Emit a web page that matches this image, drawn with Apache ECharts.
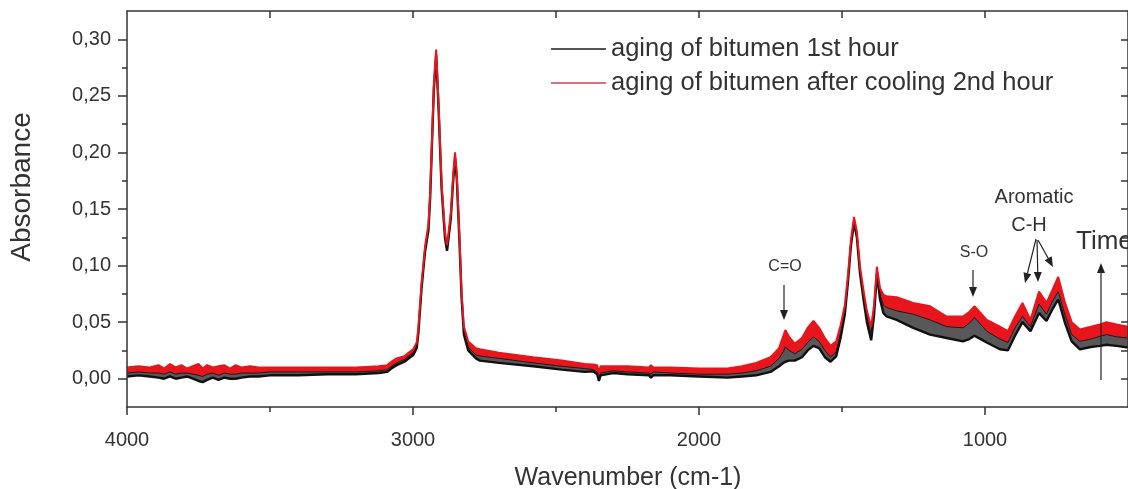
<!DOCTYPE html>
<html>
<head>
<meta charset="utf-8">
<script src="https://cdn.jsdelivr.net/npm/echarts@6/dist/echarts.min.js"></script>
<style>
html,body{margin:0;padding:0;background:#fff;}
#chart{width:1128px;height:489px;}
</style>
</head>
<body>
<div id="chart"></div>
<script>
// Wavenumber (cm-1)
const wavenumber = [4000,3960,3920,3890,3870,3850,3830,3810,3790,3770,3750,3735,3720,3700,3680,3660,3640,3620,3600,3570,3540,3500,3400,3300,3200,3120,3090,3070,3057,3030,3010,2999,2987,2981,2970,2958,2950,2946,2940,2935,2927,2919,2911,2900,2888,2881,2868,2859,2853,2847,2838,2830,2822,2807,2780,2766,2700,2580,2480,2400,2370,2356,2350,2344,2300,2250,2175,2168,2160,2100,2000,1900,1850,1800,1750,1720,1705,1698,1685,1665,1640,1620,1600,1580,1560,1540,1520,1505,1490,1479,1469,1458,1448,1437,1423,1413,1398,1388,1378,1367,1355,1344,1309,1251,1192,1134,1077,1055,1037,1015,994,948,920,895,869,841,811,785,765,744,720,697,668,630,598,575,540,500];
// 2nd hour (after cooling) spectra - upper edge of red band
const cooled2ndHourUpper = [.010,.011,.010,.012,.009,.013,.010,.012,.009,.011,.013,.009,.012,.010,.011,.012,.009,.012,.010,.011,.010,.010,.010,.010,.010,.011,.012,.016,.018,.020,.024,.026,.032,.046,.085,.117,.130,.136,.165,.202,.261,.291,.246,.173,.129,.118,.146,.182,.200,.182,.129,.076,.046,.033,.027,.026,.023,.019,.016,.013,.0125,.012,.006,.011,.011,.011,.010,.012,.010,.010,.009,.009,.011,.014,.019,.027,.038,.043,.037,.031,.036,.045,.051,.045,.036,.029,.033,.047,.065,.092,.122,.143,.130,.099,.075,.060,.046,.065,.099,.080,.074,.073,.072,.067,.064,.055,.055,.059,.064,.058,.052,.046,.042,.055,.067,.052,.077,.067,.078,.090,.067,.050,.0435,.046,.048,.050,.048,.046];
// 2nd hour spectra - lower edge of red band (= upper edge of 1st hour band)
const cooled2ndHourLower = [.005,.006,.005,.005,.004,.006,.004,.005,.005,.004,.003,.002,.004,.005,.003,.005,.004,.004,.005,.005,.005,.006,.006,.006,.006,.007,.008,.012,.014,.017,.021,.023,.029,.043,.082,.114,.127,.133,.162,.199,.258,.288,.243,.170,.126,.115,.143,.179,.197,.179,.126,.073,.042,.028,.021,.020,.018,.014,.011,.009,.008,.006,.000,.005,.007,.006,.005,.004,.006,.005,.004,.004,.005,.007,.011,.018,.024,.028,.025,.022,.026,.032,.037,.033,.025,.019,.024,.040,.060,.088,.119,.140,.127,.095,.070,.054,.039,.060,.096,.074,.065,.063,.060,.057,.052,.046,.045,.049,.054,.048,.042,.035,.032,.045,.055,.046,.066,.057,.068,.077,.056,.039,.033,.035,.0375,.039,.037,.036];
// 1st hour spectra - lower edge of black band
const firstHourLower = [.002,.003,.002,.001,.000,.002,.000,.001,.002,.000,-.002,-.003,-.001,.001,-.001,.001,.000,.000,.001,.002,.002,.003,.003,.004,.004,.005,.006,.010,.012,.015,.019,.021,.027,.041,.080,.112,.125,.131,.160,.197,.256,.286,.241,.168,.124,.113,.141,.177,.195,.177,.124,.071,.039,.025,.018,.016,.014,.011,.008,.006,.0065,.004,-.002,.003,.005,.004,.003,.001,.003,.003,.002,.001,.002,.003,.006,.011,.014,.015,.016,.016,.019,.025,.029,.027,.019,.015,.020,.036,.057,.086,.117,.138,.125,.093,.067,.050,.034,.056,.093,.070,.058,.055,.052,.045,.039,.036,.033,.035,.038,.035,.032,.026,.025,.038,.050,.042,.058,.051,.061,.070,.049,.033,.026,.028,.029,.030,.029,.0276];

const majorX = [1000,2000,3000,4000];
const minorX = [1500,2500,3500];
const allX = [1000,1500,2000,2500,3000,3500];
const majorY = [0,0.05,0.10,0.15,0.20,0.25,0.30];
const minorY = [0.025,0.075,0.125,0.175,0.225,0.275];
const allY = [0,0.025,0.05,0.075,0.10,0.125,0.15,0.175,0.20,0.225,0.25,0.275,0.30];

const nameFirst = 'aging of bitumen 1st hour';
const nameSecond = 'aging of bitumen after cooling 2nd hour';

const pairs = arr => wavenumber.map((w, i) => [w, arr[i]]);
const FONT = "'Liberation Sans', Arial, sans-serif";
const axisCol = '#333';

function arrow(x1, y1, x2, y2) {
  const dx = x2 - x1, dy = y2 - y1, L = Math.sqrt(dx*dx + dy*dy);
  const ux = dx / L, uy = dy / L, hl = 10, hw = 4;
  const bx = x2 - ux*hl, by = y2 - uy*hl;
  return [
    {type:'line', shape:{x1:x1, y1:y1, x2:bx, y2:by}, style:{stroke:'#222', lineWidth:1.2}, z:100},
    {type:'polygon', shape:{points:[[x2,y2],[bx - uy*hw, by + ux*hw],[bx + uy*hw, by - ux*hw]]}, style:{fill:'#222'}, z:100}
  ];
}
function label(x, y, text, size, align) {
  return {type:'text', x:x, y:y, z:100, style:{text:text, font: size + 'px ' + FONT, fill:'#333', align: align || 'center', verticalAlign:'middle'}};
}

const graphics = [].concat(
  [label(785, 267, 'C=O', 16), label(974, 253, 'S-O', 16), label(1034, 197, 'Aromatic', 20), label(1029, 225, 'C-H', 20), label(1076, 242, 'Time', 26, 'left')],
  arrow(784, 285, 784, 320),
  arrow(973, 270, 973, 297),
  arrow(1036, 239, 1025, 283),
  arrow(1037, 240, 1038, 282),
  arrow(1038, 240, 1053, 267),
  arrow(1101, 380, 1101, 263),
  [
    {type:'text', x:22, y:187, rotation: Math.PI/2, z:100, style:{text:'Absorbance', font:'28px ' + FONT, fill:'#333', align:'center', verticalAlign:'middle'}},
    {type:'text', x:628, y:478, z:100, style:{text:'Wavenumber (cm-1)', font:'25px ' + FONT, fill:'#333', align:'center', verticalAlign:'middle'}}
  ]
);

const chart = echarts.init(document.getElementById('chart'), null, {renderer:'canvas'});
const xBase = {type:'value', min:500, max:4000, inverse:true, splitLine:{show:false}};
const yBase = {type:'value', min:-0.025, max:0.325, splitLine:{show:false}};
const lineStyleAxis = {color: axisCol, width: 1.5};

chart.setOption({
  animation:false,
  backgroundColor:'#fff',
  grid:{left:127, right:0, top:11, bottom:82, containLabel:false},
  legend:{
    orient:'vertical', left:546, top:31, icon:'rect', itemWidth:55, itemHeight:2, itemGap:8,
    textStyle:{fontFamily:FONT, fontSize:25.5, color:'#333'},
    data:[{name:nameFirst, itemStyle:{color:'#555'}}, {name:nameSecond, itemStyle:{color:'#d9707a'}}]
  },
  xAxis:[
    Object.assign({}, xBase, {position:'bottom', z:10,
      axisLine:{show:true, onZero:false, lineStyle:lineStyleAxis},
      axisTick:{show:true, length:8, customValues:majorX, lineStyle:lineStyleAxis},
      axisLabel:{show:true, customValues:majorX, margin:23, fontFamily:FONT, fontSize:20, color:'#333',
        formatter: v => String(Math.round(v))}}),
    Object.assign({}, xBase, {position:'bottom', z:10,
      axisLine:{show:false, onZero:false},
      axisTick:{show:true, length:5, customValues:minorX, lineStyle:lineStyleAxis},
      axisLabel:{show:false}}),
    Object.assign({}, xBase, {position:'top', z:10,
      axisLine:{show:true, onZero:false, lineStyle:lineStyleAxis},
      axisTick:{show:true, inside:true, length:7, customValues:allX, lineStyle:lineStyleAxis},
      axisLabel:{show:false}})
  ],
  yAxis:[
    Object.assign({}, yBase, {position:'left', z:10,
      axisLine:{show:true, onZero:false, lineStyle:lineStyleAxis},
      axisTick:{show:true, length:9, customValues:majorY, lineStyle:lineStyleAxis},
      axisLabel:{show:true, customValues:majorY, margin:16, fontFamily:FONT, fontSize:20, color:'#333',
        formatter: v => v.toFixed(2).replace('.', ',')}}),
    Object.assign({}, yBase, {position:'left', z:10,
      axisLine:{show:false, onZero:false},
      axisTick:{show:true, length:5, customValues:minorY, lineStyle:lineStyleAxis},
      axisLabel:{show:false}}),
    Object.assign({}, yBase, {position:'right', z:10,
      axisLine:{show:true, onZero:false, lineStyle:lineStyleAxis},
      axisTick:{show:true, inside:true, length:7, customValues:allY, lineStyle:lineStyleAxis},
      axisLabel:{show:false}})
  ],
  series:[
    {name:'_fillRed', type:'line', data:pairs(cooled2ndHourUpper), symbol:'none', silent:true, z:2,
      lineStyle:{width:0, opacity:0}, areaStyle:{color:'#e8161c', opacity:1, origin:'start'}},
    {name:'_fillGray', type:'line', data:pairs(cooled2ndHourLower), symbol:'none', silent:true, z:2,
      lineStyle:{width:0, opacity:0}, areaStyle:{color:'#58585a', opacity:1, origin:'start'}},
    {name:'_fillWhite', type:'line', data:pairs(firstHourLower), symbol:'none', silent:true, z:2,
      lineStyle:{width:0, opacity:0}, areaStyle:{color:'#ffffff', opacity:1, origin:'start'}},
    {name:nameFirst, type:'line', data:pairs(firstHourLower), symbol:'none', silent:true, z:3,
      lineStyle:{color:'#111', width:2.4}, itemStyle:{color:'#555'}},
    {name:'_edge', type:'line', data:pairs(cooled2ndHourLower), symbol:'none', silent:true, z:3,
      lineStyle:{color:'#1a1a1a', width:1}},
    {name:nameSecond, type:'line', data:pairs(cooled2ndHourUpper), symbol:'none', silent:true, z:4,
      lineStyle:{color:'#e8161c', width:2}, itemStyle:{color:'#d9707a'}}
  ],
  graphic: graphics
});
</script>
</body>
</html>
